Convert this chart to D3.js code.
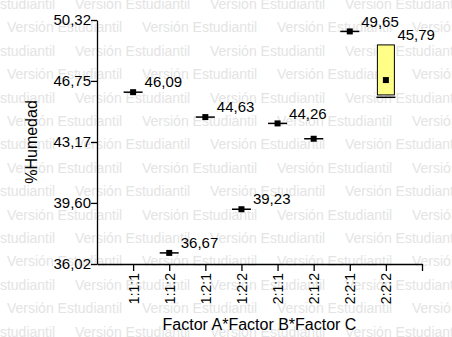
<!DOCTYPE html>
<html>
<head>
<meta charset="utf-8">
<script src="https://cdn.jsdelivr.net/npm/d3@7"></script>
<style>
  body { margin: 0; background: #fff; }
  svg { display: block; font-family: "Liberation Sans", Arial, sans-serif; }
</style>
</head>
<body>
<svg id="chart" width="452" height="337"></svg>
<script>
var categories = ["1:1:1", "1:1:2", "1:2:1", "1:2:2", "2:1:1", "2:1:2", "2:2:1", "2:2:2"],
    lineVals = [46.09, 36.67, 44.63, 39.23, 44.26, 43.36, 49.65, 45.79],
    pointVals = [46.09, 36.67, 44.63, 39.23, 44.26, 43.36, 49.65, 46.80],
    labelVals = [46.09, 36.67, 44.63, 39.23, 44.26, null, 49.65, 45.79],
    boxLow = [null, null, null, null, null, null, null, 45.93],
    boxHigh = [null, null, null, null, null, null, null, 48.86],
    yTicks = [36.02, 39.60, 43.17, 46.75, 50.32],
    wmText = "Versión Estudiantil";

var svg = d3.select("#chart"),
    W = 452, H = 337,
    fmt = function (d) { return d.toFixed(2).replace(".", ","); };

// marca de agua de fondo
var wm = svg.append("g").attr("fill", "#e4e4e4").style("font-size", "14px");
for (var r = 0; r < 15; r++) {
    var by = 9 + r * 23.4,
        off = (r % 2 == 0) ? -60 : 7;
    for (var c = -1; c < 5; c++) {
        wm.append("text").attr("x", off + c * 135).attr("y", by).text(wmText);
    }
}

var x = d3.scaleLinear().domain([0, 9]).range([97, 422]),
    y = d3.scaleLinear().domain([36.02, 50.32]).range([264, 20]);

var xAxis = d3.axisBottom(x)
    .tickValues(d3.range(1, 10))
    .tickFormat(function (i) { return categories[i - 1] || ""; })
    .tickSize(7).tickSizeOuter(0);

var yAxis = d3.axisLeft(y)
    .tickValues(yTicks)
    .tickFormat(fmt)
    .tickSize(6).tickSizeOuter(0);

var gx = svg.append("g").attr("transform", "translate(0," + y(36.02) + ")").call(xAxis);
gx.selectAll("text")
    .attr("transform", "rotate(-90)")
    .attr("x", -9).attr("y", 0).attr("dy", "0.35em")
    .attr("text-anchor", "end")
    .style("font-size", "14px").attr("fill", "#000");

var gy = svg.append("g").attr("transform", "translate(" + x(0) + ",0)").call(yAxis);
gy.selectAll("text").attr("x", -6).style("font-size", "15px").attr("fill", "#000");

svg.selectAll(".domain, .tick line").attr("stroke", "#000").attr("stroke-width", 1.3);
svg.selectAll(".tick text").style("font-family", "Liberation Sans, Arial, sans-serif");

// titulos
svg.append("text")
    .attr("x", (x(0) + x(9)) / 2).attr("y", 330)
    .attr("text-anchor", "middle").style("font-size", "16px")
    .text("Factor A*Factor B*Factor C");

svg.append("text")
    .attr("transform", "translate(37," + ((y.range()[0] + y.range()[1]) / 2) + ") rotate(-90)")
    .attr("text-anchor", "middle").style("font-size", "16px")
    .text("%Humedad");

// cajas
var idx = d3.range(categories.length);
svg.selectAll(".box")
    .data(idx.filter(function (i) { return boxLow[i] != null; }))
    .enter().append("rect").attr("class", "box")
    .attr("x", function (i) { return x(i + 1) - 8.5; })
    .attr("width", 17)
    .attr("y", function (i) { return y(boxHigh[i]); })
    .attr("height", function (i) { return y(boxLow[i]) - y(boxHigh[i]); })
    .attr("fill", "#ffff88").attr("stroke", "#000").attr("stroke-width", 1);

// lineas horizontales
svg.selectAll(".whisk")
    .data(idx)
    .enter().append("line").attr("class", "whisk")
    .attr("x1", function (i) { return x(i + 1) - 9.5; })
    .attr("x2", function (i) { return x(i + 1) + 9.5; })
    .attr("y1", function (i) { return y(lineVals[i]); })
    .attr("y2", function (i) { return y(lineVals[i]); })
    .attr("stroke", "#000").attr("stroke-width", 1.5);

// puntos
svg.selectAll(".pt")
    .data(idx)
    .enter().append("rect").attr("class", "pt")
    .attr("x", function (i) { return x(i + 1) - 3; })
    .attr("y", function (i) { return y(pointVals[i]) - 3; })
    .attr("width", 6).attr("height", 6)
    .attr("fill", "#000");

// etiquetas
svg.selectAll(".lbl")
    .data(idx.filter(function (i) { return labelVals[i] != null; }))
    .enter().append("text").attr("class", "lbl")
    .attr("x", function (i) { return x(i + 1) + 11.5; })
    .attr("y", function (i) {
        var top = boxHigh[i] != null ? boxHigh[i] : lineVals[i];
        return y(top) - 4.8;
    })
    .style("font-size", "15px")
    .text(function (i) { return fmt(labelVals[i]); });
</script>
</body>
</html>
